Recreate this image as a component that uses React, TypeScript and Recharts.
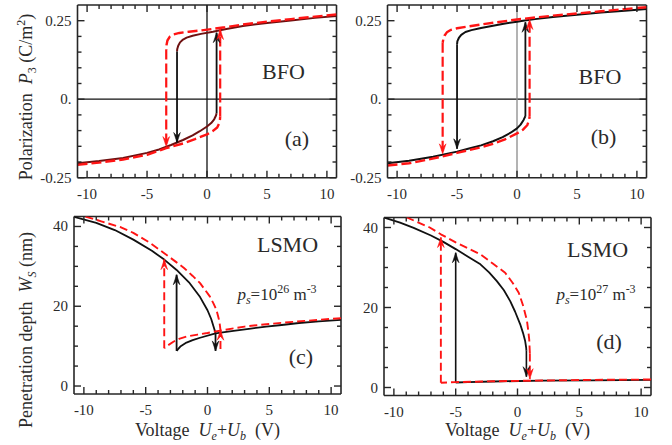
import React from 'react';
import { ComposedChart, Line, XAxis, YAxis, ReferenceLine } from 'recharts';

type Pt = [number, number];

// ---------- tick values ----------
const xMajor = [-10, -5, 0, 5, 10];
const xMinor = [-9, -8, -7, -6, -4, -3, -2, -1, 1, 2, 3, 4, 6, 7, 8, 9];
const pMajor = [-0.25, 0, 0.25];
const pMinor = [-0.2, -0.15, -0.1, -0.05, 0.05, 0.1, 0.15, 0.2];
const wMajor = [0, 20, 40];
const wMinor = [5, 10, 15, 25, 30, 35];
const X_DOMAIN: [number, number] = [-10.8, 10.8];
const P_DOMAIN: [number, number] = [-0.25, 0.3];
const W_DOMAIN: [number, number] = [-2, 42.5];

// ---------- panel (a) BFO ----------
const aSolidDecCurve: Pt[] = [[10.8, 0.265], [9, 0.259], [7, 0.251], [5, 0.243], [3, 0.233], [1.5, 0.223], [0.5, 0.215], [-0.5, 0.208], [-1.2, 0.202], [-1.7, 0.196], [-2.0, 0.19], [-2.25, 0.181], [-2.4, 0.17], [-2.48, 0.16], [-2.5, 0.152]];
const aSolidDecJump: Pt[] = [[-2.5, 0.152], [-2.5, -0.138]];
const aSolidIncCurve: Pt[] = [[-10.8, -0.204], [-9, -0.197], [-7, -0.187], [-5, -0.171], [-4, -0.16], [-3, -0.146], [-2, -0.13], [-1.2, -0.115], [-0.6, -0.102], [0, -0.087], [0.35, -0.076], [0.6, -0.064], [0.75, -0.052], [0.8, -0.045]];
const aSolidIncJump: Pt[] = [[0.8, -0.045], [0.8, 0.212]];
const aDashDecCurve: Pt[] = [[10.8, 0.27], [9, 0.263], [7, 0.255], [5, 0.247], [3, 0.238], [1.5, 0.229], [0.5, 0.224], [-0.5, 0.219], [-1.5, 0.215], [-2.3, 0.211], [-2.8, 0.206], [-3.1, 0.199], [-3.3, 0.187], [-3.38, 0.172], [-3.4, 0.158]];
const aDashDecJump: Pt[] = [[-3.4, 0.158], [-3.4, -0.151]];
const aDashIncCurve: Pt[] = [[-10.8, -0.209], [-9, -0.202], [-7, -0.192], [-5, -0.177], [-3.4, -0.156], [-2, -0.141], [-1, -0.127], [0, -0.112], [0.5, -0.101], [0.85, -0.09], [1.0, -0.078], [1.08, -0.065], [1.1, -0.055]];
const aDashIncJump: Pt[] = [[1.1, -0.055], [1.1, 0.222]];

// ---------- panel (b) BFO ----------
const bSolidDecCurve: Pt[] = [[10.8, 0.287], [9, 0.282], [7, 0.276], [5, 0.269], [3, 0.262], [1.5, 0.255], [0.5, 0.25], [0, 0.247], [-1, 0.241], [-2, 0.234], [-3, 0.227], [-3.8, 0.22], [-4.3, 0.214], [-4.65, 0.205], [-4.85, 0.195], [-4.97, 0.185], [-5.0, 0.175]];
const bSolidDecJump: Pt[] = [[-5.0, 0.175], [-5.0, -0.158]];
const bSolidIncCurve: Pt[] = [[-10.8, -0.204], [-9, -0.196], [-7, -0.183], [-5, -0.167], [-4, -0.157], [-3, -0.147], [-2, -0.134], [-1.2, -0.121], [-0.5, -0.106], [0, -0.093], [0.3, -0.081], [0.55, -0.066], [0.7, -0.054]];
const bSolidIncJump: Pt[] = [[0.7, -0.054], [0.7, 0.245]];
const bDashDecCurve: Pt[] = [[10.8, 0.293], [9, 0.287], [7, 0.28], [5, 0.273], [3, 0.266], [1, 0.258], [0, 0.254], [-1.5, 0.246], [-3, 0.238], [-4, 0.232], [-5, 0.226], [-5.5, 0.221], [-5.85, 0.213], [-6.05, 0.202], [-6.15, 0.19], [-6.2, 0.18]];
const bDashDecJump: Pt[] = [[-6.2, 0.18], [-6.2, -0.174]];
const bDashIncCurve: Pt[] = [[-10.8, -0.211], [-9, -0.204], [-7.5, -0.193], [-6.2, -0.182], [-5, -0.171], [-4, -0.162], [-3, -0.153], [-2, -0.142], [-1, -0.128], [0, -0.109], [0.5, -0.097], [0.85, -0.083], [1.0, -0.068], [1.05, -0.056]];
const bDashIncJump: Pt[] = [[1.05, -0.056], [1.05, 0.254]];

// ---------- panel (c) LSMO, ps = 1e26 ----------
const cSolidIncCurve: Pt[] = [[-10.8, 42.4], [-9, 40.9], [-7.5, 39.1], [-6, 36.7], [-4.5, 33.9], [-3.5, 31.7], [-2.5, 29.1], [-1.5, 26.0], [-0.6, 22.3], [0, 19], [0.3, 16.8], [0.5, 14.8], [0.65, 13.3]];
const cSolidIncJump: Pt[] = [[0.65, 13.3], [0.65, 8.8]];
const cSolidDecCurve: Pt[] = [[10.8, 16.6], [9, 16.2], [7.4, 15.8], [6, 15.3], [4.75, 14.9], [3.5, 14.4], [2.1, 13.8], [0.65, 13.2], [-0.6, 12.1], [-1.2, 11.5], [-1.7, 10.9], [-2.2, 9.9], [-2.4, 9.2], [-2.5, 8.8]];
const cSolidDecJump: Pt[] = [[-2.5, 8.8], [-2.5, 27.9]];
const cDashIncCurve: Pt[] = [[-10.8, 43.4], [-9.9, 42.5], [-8.6, 41.3], [-7, 39.8], [-6, 38.4], [-4.7, 36.0], [-3.5, 33.3], [-2.5, 31.0], [-1.9, 29.6], [-1.2, 27.6], [-0.6, 25.8], [0.2, 22.4], [0.5, 20.6], [0.72, 19.1], [0.9, 17.0], [0.98, 15.8], [1.05, 14.0]];
const cDashIncJump: Pt[] = [[1.05, 9.3], [1.05, 14.0]];
const cDashDecCurve: Pt[] = [[10.8, 17.0], [9, 16.6], [7, 16.1], [4.75, 15.5], [3, 14.9], [1.05, 13.9], [0, 13.3], [-0.8, 12.9], [-1.7, 12.4], [-2.3, 11.8], [-2.76, 11.1], [-3.2, 10.2], [-3.5, 9.5]];
const cDashDecJump: Pt[] = [[-3.5, 9.5], [-3.5, 31.7]];

// ---------- panel (d) LSMO, ps = 1e27 ----------
const dSolidIncCurve: Pt[] = [[-10.8, 42.5], [-9.5, 41.2], [-8.4, 39.9], [-7, 38.0], [-6, 36.4], [-5, 34.6], [-4, 32.7], [-3, 30.8], [-2.3, 28.8], [-1.67, 26.6], [-1.1, 24.3], [-0.59, 21.6], [-0.2, 19.0], [0.22, 15.8], [0.45, 13.6], [0.62, 11.6], [0.7, 10.0], [0.72, 9.2]];
const dSolidIncJump: Pt[] = [[0.72, 9.2], [0.72, 2.7]];
const dSolidDecCurve: Pt[] = [[10.8, 1.9], [6, 1.8], [2, 1.7], [-2, 1.5], [-4, 1.35], [-5, 1.25]];
const dSolidDecJump: Pt[] = [[-5, 1.25], [-5, 33.7]];
const dDashIncCurve: Pt[] = [[-10.8, 44.7], [-8.95, 42.5], [-7.1, 40.0], [-6.2, 38.3], [-5, 36.3], [-4, 34.8], [-3, 33.3], [-2, 31.0], [-1, 28.7], [-0.4, 26.2], [0.1, 23.7], [0.45, 20.5], [0.76, 16.8], [0.88, 14.0], [0.95, 11.9], [1.0, 8.5]];
const dDashIncJump: Pt[] = [[1.0, 8.5], [1.0, 2.2]];
const dDashDecCurve: Pt[] = [[10.8, 2.0], [6, 1.9], [2, 1.75], [-2, 1.55], [-5, 1.35], [-6.2, 1.2]];
const dDashDecJump: Pt[] = [[-6.2, 1.2], [-6.2, 37.5]];

// ---------- styling ----------
const PAGE_W = 672;
const PAGE_H = 445;
const FONT = '"Liberation Serif", "Times New Roman", serif';
const FRAME = '#262626';
const TEXT = '#2a2a2a';
const MAROON = '#6e1010';
const RED = '#ff1414';
const BLACK = '#111111';

type Box = { l: number; r: number; t: number; b: number };
type Series = { data: Pt[]; color: string; width: number; dash?: string; arrow?: boolean };

const toXY = (arr: Pt[]) => arr.map(([x, y]) => ({ x, y }));

const arrowDot = (data: Pt[], color: string) => (props: any) => {
  const { cx, cy, index } = props;
  const n = data.length;
  if (index !== n - 1 || cx == null || cy == null) return <g key={`ad-${index}`} />;
  const up = data[n - 1][1] > data[n - 2][1];
  const s = up ? 1 : -1;
  const L = 10;
  const hw = 3.3;
  const d = `M${cx},${cy} L${cx - hw},${cy + s * L} L${cx},${cy + s * L * 0.62} L${cx + hw},${cy + s * L} Z`;
  return <path key={`ad-${index}`} d={d} fill={color} stroke={color} strokeWidth={0.6} />;
};

type PanelProps = {
  box: Box;
  yDomain: [number, number];
  yMajorT: number[];
  yMinorT: number[];
  yFmt: (v: number) => string;
  series: Series[];
  zeroH?: string;
  zeroV?: string;
};

function Panel({ box, yDomain, yMajorT, yMinorT, yFmt, series, zeroH, zeroV }: PanelProps) {
  const plotW = box.r - box.l;
  const plotH = box.b - box.t;
  const margin = { left: box.l - 60, top: box.t, right: PAGE_W - box.r, bottom: PAGE_H - box.b - 30 };

  const xTick = (p: any) => {
    const { x, y, payload } = p;
    const v = payload.value;
    const major = xMajor.includes(v);
    const len = major ? 7 : 4;
    return (
      <g>
        <line x1={x} y1={y} x2={x} y2={y - len} stroke={FRAME} strokeWidth={1.4} />
        <line x1={x} y1={y - plotH} x2={x} y2={y - plotH + len} stroke={FRAME} strokeWidth={1.4} />
        {major && (
          <text x={x} y={y + 21} textAnchor="middle" fontFamily={FONT} fontSize={15} fill={TEXT}>
            {String(v)}
          </text>
        )}
      </g>
    );
  };

  const yTick = (p: any) => {
    const { x, y, payload } = p;
    const v = payload.value;
    const major = yMajorT.includes(v);
    const len = major ? 7 : 4;
    return (
      <g>
        <line x1={x} y1={y} x2={x + len} y2={y} stroke={FRAME} strokeWidth={1.4} />
        <line x1={x + plotW} y1={y} x2={x + plotW - len} y2={y} stroke={FRAME} strokeWidth={1.4} />
        {major && (
          <text x={x - 6} y={y + 5} textAnchor="end" fontFamily={FONT} fontSize={15} fill={TEXT}>
            {yFmt(v)}
          </text>
        )}
      </g>
    );
  };

  return (
    <div style={{ position: 'absolute', left: 0, top: 0 }}>
      <ComposedChart width={PAGE_W} height={PAGE_H} margin={margin}>
        <XAxis
          type="number"
          dataKey="x"
          domain={X_DOMAIN}
          allowDataOverflow
          ticks={[...xMajor, ...xMinor]}
          interval={0}
          height={30}
          tickSize={0}
          tickMargin={0}
          tickLine={false}
          axisLine={{ stroke: FRAME, strokeWidth: 1.6 }}
          tick={xTick}
        />
        <YAxis
          type="number"
          dataKey="y"
          domain={yDomain}
          allowDataOverflow
          ticks={[...yMajorT, ...yMinorT]}
          interval={0}
          width={60}
          tickSize={0}
          tickMargin={0}
          tickLine={false}
          axisLine={{ stroke: FRAME, strokeWidth: 1.6 }}
          tick={yTick}
        />
        <ReferenceLine y={yDomain[1]} stroke={FRAME} strokeWidth={1.6} />
        <ReferenceLine x={X_DOMAIN[1]} stroke={FRAME} strokeWidth={1.6} />
        {zeroH && <ReferenceLine y={0} stroke={zeroH} strokeWidth={1.2} />}
        {zeroV && <ReferenceLine x={0} stroke={zeroV} strokeWidth={1.3} />}
        {series.map((s, i) => (
          <Line
            key={`s${i}`}
            data={toXY(s.data)}
            dataKey="y"
            type="linear"
            stroke={s.color}
            strokeWidth={s.width}
            strokeDasharray={s.dash}
            strokeLinejoin="round"
            dot={s.arrow ? arrowDot(s.data, s.color) : false}
            activeDot={false}
            isAnimationActive={false}
            legendType="none"
          />
        ))}
      </ComposedChart>
    </div>
  );
}

const fmtP = (v: number) => (v === 0 ? '0.' : String(v));
const fmtW = (v: number) => String(v);

const TOP_DASH = '10 4';
const BOT_DASH = '8 4';

const seriesA: Series[] = [
  { data: aSolidDecCurve, color: MAROON, width: 2 },
  { data: aSolidIncCurve, color: MAROON, width: 2 },
  { data: aSolidDecJump, color: BLACK, width: 1.8, arrow: true },
  { data: aSolidIncJump, color: BLACK, width: 1.8, arrow: true },
  { data: aDashDecCurve, color: RED, width: 2.4, dash: TOP_DASH },
  { data: aDashIncCurve, color: RED, width: 2.4, dash: TOP_DASH },
  { data: aDashDecJump, color: RED, width: 2.2, dash: TOP_DASH, arrow: true },
  { data: aDashIncJump, color: RED, width: 2.2, dash: TOP_DASH, arrow: true },
];
const seriesB: Series[] = [
  { data: bSolidDecCurve, color: BLACK, width: 2 },
  { data: bSolidIncCurve, color: BLACK, width: 2 },
  { data: bSolidDecJump, color: BLACK, width: 1.8, arrow: true },
  { data: bSolidIncJump, color: BLACK, width: 1.8, arrow: true },
  { data: bDashDecCurve, color: RED, width: 2.4, dash: TOP_DASH },
  { data: bDashIncCurve, color: RED, width: 2.4, dash: TOP_DASH },
  { data: bDashDecJump, color: RED, width: 2.2, dash: TOP_DASH, arrow: true },
  { data: bDashIncJump, color: RED, width: 2.2, dash: TOP_DASH, arrow: true },
];
const seriesC: Series[] = [
  { data: cSolidIncCurve, color: BLACK, width: 1.8 },
  { data: cSolidDecCurve, color: BLACK, width: 1.8 },
  { data: cSolidIncJump, color: BLACK, width: 1.8, arrow: true },
  { data: cSolidDecJump, color: BLACK, width: 1.8, arrow: true },
  { data: cDashIncCurve, color: RED, width: 1.9, dash: BOT_DASH },
  { data: cDashDecCurve, color: RED, width: 1.9, dash: BOT_DASH },
  { data: cDashIncJump, color: RED, width: 1.9, dash: BOT_DASH, arrow: true },
  { data: cDashDecJump, color: RED, width: 1.9, dash: BOT_DASH, arrow: true },
];
const seriesD: Series[] = [
  { data: dSolidIncCurve, color: BLACK, width: 1.8 },
  { data: dSolidDecCurve, color: BLACK, width: 1.8 },
  { data: dSolidIncJump, color: BLACK, width: 1.6, arrow: true },
  { data: dSolidDecJump, color: BLACK, width: 1.6, arrow: true },
  { data: dDashIncCurve, color: RED, width: 1.9, dash: BOT_DASH },
  { data: dDashDecCurve, color: RED, width: 1.9, dash: BOT_DASH },
  { data: dDashIncJump, color: RED, width: 1.9, dash: BOT_DASH, arrow: true },
  { data: dDashDecJump, color: RED, width: 1.9, dash: BOT_DASH, arrow: true },
];

const boxA: Box = { l: 77.5, r: 336.5, t: 5, b: 177.7 };
const boxB: Box = { l: 387.5, r: 646.5, t: 5, b: 177.7 };
const boxC: Box = { l: 74, r: 341, t: 216.5, b: 394 };
const boxD: Box = { l: 384, r: 651, t: 217.5, b: 395.5 };

const txt = { fontFamily: FONT, fill: TEXT, whiteSpace: 'pre' as const };

function Overlay() {
  const PsLabel = ({ x, y, exp }: { x: number; y: number; exp: string }) => (
    <text x={x} y={y} textAnchor="middle" fontSize={17} style={txt}>
      <tspan fontStyle="italic">p</tspan>
      <tspan fontStyle="italic" fontSize={12} dy={4}>s</tspan>
      <tspan dy={-4}>=10</tspan>
      <tspan fontSize={12} dy={-7}>{exp}</tspan>
      <tspan dy={7}> m</tspan>
      <tspan fontSize={12} dy={-7}>-3</tspan>
    </text>
  );
  const XTitle = ({ cx }: { cx: number }) => (
    <text x={cx} y={436} textAnchor="middle" fontSize={18} style={txt}>
      {'Voltage  '}
      <tspan fontStyle="italic">U</tspan>
      <tspan fontStyle="italic" fontSize={12} dy={4}>e</tspan>
      <tspan dy={-4}>+</tspan>
      <tspan fontStyle="italic">U</tspan>
      <tspan fontStyle="italic" fontSize={12} dy={4}>b</tspan>
      <tspan dy={-4}>{'  (V)'}</tspan>
    </text>
  );
  return (
    <svg width={PAGE_W} height={PAGE_H} style={{ position: 'absolute', left: 0, top: 0, pointerEvents: 'none' }}>
      <text transform="translate(32,97) rotate(-90)" textAnchor="middle" fontSize={18} style={txt}>
        {'Polarization  '}
        <tspan fontStyle="italic">P</tspan>
        <tspan fontSize={12} dy={4}>3</tspan>
        <tspan dy={-4}>{' (C/m'}</tspan>
        <tspan fontSize={12} dy={-7}>2</tspan>
        <tspan dy={7}>)</tspan>
      </text>
      <text transform="translate(32,330) rotate(-90)" textAnchor="middle" fontSize={18} style={txt}>
        {'Penetration depth  '}
        <tspan fontStyle="italic">W</tspan>
        <tspan fontStyle="italic" fontSize={12} dy={4}>S</tspan>
        <tspan dy={-4}>{' (nm)'}</tspan>
      </text>
      <XTitle cx={207.5} />
      <XTitle cx={517.5} />

      <text x={283.5} y={78.5} textAnchor="middle" fontSize={22} style={txt}>BFO</text>
      <text x={297} y={146} textAnchor="middle" fontSize={22} style={txt}>(a)</text>
      <text x={600} y={83.5} textAnchor="middle" fontSize={22} style={txt}>BFO</text>
      <text x={603.5} y={144} textAnchor="middle" fontSize={22} style={txt}>(b)</text>
      <text x={287.5} y={251.5} textAnchor="middle" fontSize={22} style={txt}>LSMO</text>
      <PsLabel x={277} y={300} exp="26" />
      <text x={301} y={364} textAnchor="middle" fontSize={22} style={txt}>(c)</text>
      <text x={597.5} y={257} textAnchor="middle" fontSize={22} style={txt}>LSMO</text>
      <PsLabel x={596} y={300} exp="27" />
      <text x={609} y={349} textAnchor="middle" fontSize={22} style={txt}>(d)</text>
    </svg>
  );
}

export default function App() {
  return (
    <div style={{ position: 'absolute', left: 0, top: 0, width: PAGE_W, height: PAGE_H, background: '#fff', overflow: 'hidden' }}>
      <Panel box={boxA} yDomain={P_DOMAIN} yMajorT={pMajor} yMinorT={pMinor} yFmt={fmtP} series={seriesA} zeroH="#111" zeroV="#111" />
      <Panel box={boxB} yDomain={P_DOMAIN} yMajorT={pMajor} yMinorT={pMinor} yFmt={fmtP} series={seriesB} zeroH="#111" zeroV="#8a8a8a" />
      <Panel box={boxC} yDomain={W_DOMAIN} yMajorT={wMajor} yMinorT={wMinor} yFmt={fmtW} series={seriesC} />
      <Panel box={boxD} yDomain={W_DOMAIN} yMajorT={wMajor} yMinorT={wMinor} yFmt={fmtW} series={seriesD} />
      <Overlay />
    </div>
  );
}
